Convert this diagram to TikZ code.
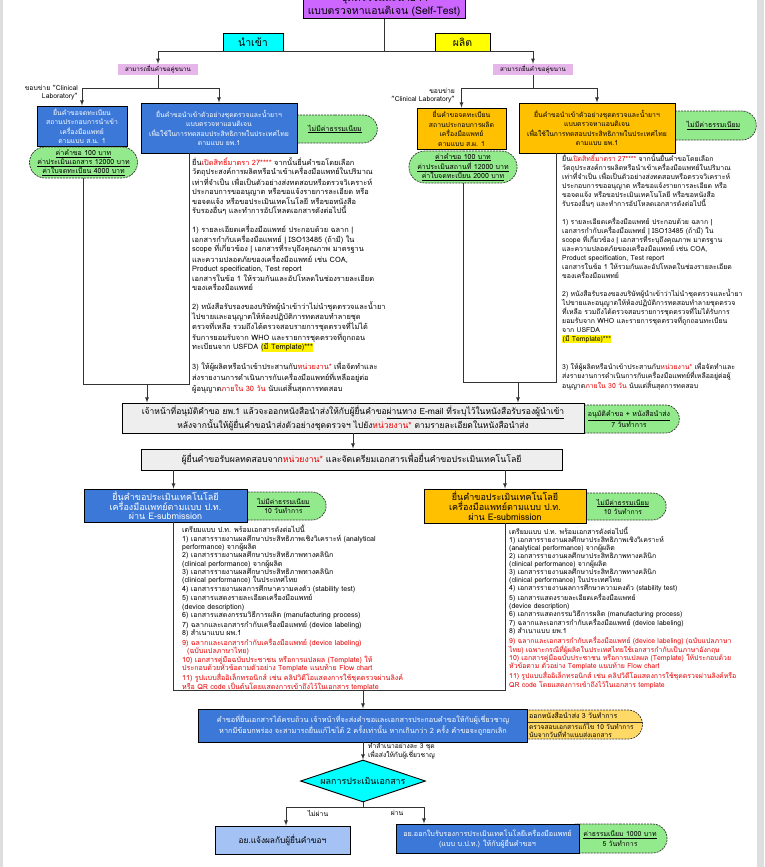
\documentclass[tikz,border=0pt]{standalone}
\usepackage{fontspec}
\setmainfont{Loma}[Script=Thai]
\usepackage{xcolor}
\usepackage{tikz}
\usetikzlibrary{arrows,shapes.geometric,shapes.misc,positioning}

\definecolor{titlepurple}{RGB}{204,102,255}
\definecolor{importcyan}{RGB}{0,255,255}
\definecolor{mfgyellow}{RGB}{255,255,0}
\definecolor{labelpink}{RGB}{230,182,234}
\definecolor{boxblue}{RGB}{60,120,216}
\definecolor{boxorange}{RGB}{255,192,0}
\definecolor{pillgreen}{RGB}{147,234,140}
\definecolor{bargray}{RGB}{238,238,238}
\definecolor{resultblue}{RGB}{164,194,244}
\definecolor{pillyellow}{RGB}{255,217,102}
\definecolor{notered}{RGB}{230,0,0}
\definecolor{pagegray}{RGB}{222,222,222}

\newcommand{\redtxt}[1]{\textcolor{notered}{#1}}
\newcommand{\hilite}[1]{{\setlength{\fboxsep}{0.5pt}\colorbox{yellow}{#1}}}

\tikzset{
  box/.style={draw=black, line width=0.9pt, align=center, inner sep=1pt, font=\fontsize{6.8}{9.5}\selectfont},
  bluebox/.style={box, fill=boxblue, text=white},
  orangebox/.style={box, fill=boxorange},
  graybar/.style={box, fill=bargray, font=\fontsize{8.5}{10}\selectfont},
  tab/.style={box, font=\fontsize{10.5}{12}\selectfont},
  pill/.style={rounded rectangle, draw=black!80, dash pattern=on 2pt off 1pt, line width=0.7pt, fill=pillgreen, align=center, inner sep=1pt, font=\fontsize{7}{9}\selectfont},
  halfpill/.style={pill, rounded rectangle west arc=none},
  tag/.style={fill=labelpink, inner sep=1pt, font=\fontsize{6.2}{7}\selectfont},
  note/.style={align=left, inner sep=0pt, anchor=north west},
  small/.style={inner sep=0pt, font=\fontsize{6.8}{8.5}\selectfont},
  decision/.style={diamond, aspect=3, draw=black, line width=0.9pt, fill=importcyan, minimum width=125pt, minimum height=42pt, inner sep=0pt, font=\fontsize{8.9}{10}\selectfont},
  link/.style={draw=black!80, line width=0.8pt},
  arrowlink/.style={link, -latex},
}

\begin{document}
\begin{tikzpicture}[x=1pt,y=1pt,yscale=-1,xscale=1]
    \useasboundingbox (0,0) rectangle (764,867);
    \fill[pagegray] (0,0) rectangle (764,867);
    \fill[white] (3,0) rectangle (757,867);

    %Shape: Title
    \node[box, fill=titlepurple, anchor=south, minimum width=162pt, inner sep=1.5pt, font=\fontsize{10.4}{13}\selectfont] (title) at (384,19) {ชุดตรวจและน้ำยาฯ\\แบบตรวจหาแอนติเจน (Self-Test)};
    %Shape: Import / Manufacture tabs
    \node[tab, fill=importcyan, minimum width=60pt, minimum height=18pt] (impTab) at (253,42) {นำเข้า};
    \node[tab, fill=mfgyellow, minimum width=55pt, minimum height=18pt] (mfgTab) at (462.5,42) {ผลิต};
    % Text Node
    \node[tag, minimum width=80pt, minimum height=11pt] (tagImp) at (158,69.5) {สามารถยื่นคำขอคู่ขนาน};
    \node[tag, minimum width=80pt, minimum height=11pt] (tagMfg) at (533,69.5) {สามารถยื่นคำขอคู่ขนาน};

    %Shape: import side
    \node[halfpill, minimum width=86pt, minimum height=28pt] (impFree) at (335,129) {\underline{ไม่มีค่าธรรมเนียม}};
    \node[bluebox, minimum width=90pt, minimum height=40pt] (impReg) at (82,126) {ยื่นคำขอจดทะเบียน\\สถานประกอบการนำเข้า\\เครื่องมือแพทย์\\ตามแบบ ส.น. 1};
    \node[bluebox, minimum width=156pt, minimum height=50pt] (impReq) at (219,128) {ยื่นคำขอนำเข้าตัวอย่างชุดตรวจและน้ำยาฯ\\แบบตรวจหาแอนติเจน\\เพื่อใช้ในการทดสอบประสิทธิภาพในประเทศไทย\\ตามแบบ ยพ.1};
    \node[pill, minimum width=107pt, minimum height=31pt] (impFee) at (83.5,162.5) {\underline{ค่าคำขอ 100 บาท}\\\underline{ค่าประเมินเอกสาร 12000 บาท}\\\underline{ค่าใบจดทะเบียน 4000 บาท}};
    % Text Node
    \node[small, align=right, anchor=north east] (impScope) at (78,85) {ขอบข่าย "Clinical\\Laboratory"};

    %Shape: manufacture side
    \node[halfpill, minimum width=87pt, minimum height=29pt] (mfgFree) at (713.5,125.5) {\underline{ไม่มีค่าธรรมเนียม}};
    \node[orangebox, minimum width=89pt, minimum height=41pt] (mfgReg) at (461.5,128.5) {ยื่นคำขอจดทะเบียน\\สถานประกอบการผลิต\\เครื่องมือแพทย์\\ตามแบบ ส.ผ. 1};
    \node[orangebox, minimum width=156pt, minimum height=50pt] (mfgReq) at (597,128) {ยื่นคำขอนำเข้าตัวอย่างชุดตรวจและน้ำยาฯ\\แบบตรวจหาแอนติเจน\\เพื่อใช้ในการทดสอบประสิทธิภาพในประเทศไทย\\ตามแบบ ยพ.1};
    \node[pill, minimum width=108pt, minimum height=32pt] (mfgFee) at (463,167) {\underline{ค่าคำขอ 100 บาท}\\\underline{ค่าประเมินสถานที่ 12000 บาท}\\\underline{ค่าใบจดทะเบียน 2000 บาท}};
    % Text Node
    \node[small, align=right, anchor=north east] (mfgScope) at (455,88) {ขอบข่าย\\"Clinical Laboratory"};

    % Text Node
    \node[note, font=\fontsize{7.4}{9.5}\selectfont] (impNote) at (192,157) {ยื่น\redtxt{เปิดสิทธิ์มาตรา 27****} จากนั้นยื่นคำขอโดยเลือก\\
วัตถุประสงค์การผลิตหรือนำเข้าเครื่องมือแพทย์ในปริมาณ\\
เท่าที่จำเป็น เพื่อเป็นตัวอย่างส่งทดสอบหรือตรวจวิเคราะห์\\
ประกอบการขออนุญาต หรือขอแจ้งรายการละเอียด หรือ\\
ขอจดแจ้ง หรือขอประเมินเทคโนโลยี หรือขอหนังสือ\\
รับรองอื่นๆ และทำการอัปโหลดเอกสารดังต่อไปนี้\\[9.5pt]
1) รายละเอียดเครื่องมือแพทย์ ประกอบด้วย ฉลาก |\\
เอกสารกำกับเครื่องมือแพทย์ | ISO13485 (ถ้ามี) ใน\\
scope ที่เกี่ยวข้อง | เอกสารที่ระบุถึงคุณภาพ มาตรฐาน\\
และความปลอดภัยของเครื่องมือแพทย์ เช่น COA,\\
Product specification, Test report\\
เอกสารในข้อ 1 ให้รวมกันและอัปโหลดในช่องรายละเอียด\\
ของเครื่องมือแพทย์\\[9.5pt]
2) หนังสือรับรองของบริษัทผู้นำเข้าว่าไม่นำชุดตรวจและน้ำยา\\
ไปขายและอนุญาตให้ห้องปฏิบัติการทดสอบทำลายชุด\\
ตรวจที่เหลือ รวมถึงได้ตรวจสอบรายการชุดตรวจที่ไม่ได้\\
รับการยอมรับจาก WHO และรายการชุดตรวจที่ถูกถอน\\
ทะเบียนจาก USFDA \hilite{(มี Template)***}\\[9.5pt]
3) ให้ผู้ผลิตหรือนำเข้าประสานกับ\redtxt{หน่วยงาน*} เพื่อจัดทำและ\\
ส่งรายงานการดำเนินการกับเครื่องมือแพทย์ที่เหลืออยู่ต่อ\\
ผู้อนุญาต\redtxt{ภายใน 30 วัน} นับแต่สิ้นสุดการทดสอบ};
    % Text Node
    \node[note, font=\fontsize{6.9}{9}\selectfont] (mfgNote) at (562,154) {ยื่น\redtxt{เปิดสิทธิ์มาตรา 27****} จากนั้นยื่นคำขอโดยเลือก\\
วัตถุประสงค์การผลิตหรือนำเข้าเครื่องมือแพทย์ในปริมาณ\\
เท่าที่จำเป็น เพื่อเป็นตัวอย่างส่งทดสอบหรือตรวจวิเคราะห์\\
ประกอบการขออนุญาต หรือขอแจ้งรายการละเอียด หรือ\\
ขอจดแจ้ง หรือขอประเมินเทคโนโลยี หรือขอหนังสือ\\
รับรองอื่นๆ และทำการอัปโหลดเอกสารดังต่อไปนี้\\[9pt]
1) รายละเอียดเครื่องมือแพทย์ ประกอบด้วย ฉลาก |\\
เอกสารกำกับเครื่องมือแพทย์ | ISO13485 (ถ้ามี) ใน\\
scope ที่เกี่ยวข้อง | เอกสารที่ระบุถึงคุณภาพ มาตรฐาน\\
และความปลอดภัยของเครื่องมือแพทย์ เช่น COA,\\
Product specification, Test report\\
เอกสารในข้อ 1 ให้รวมกันและอัปโหลดในช่องรายละเอียด\\
ของเครื่องมือแพทย์\\[9pt]
2) หนังสือรับรองของบริษัทผู้นำเข้าว่าไม่นำชุดตรวจและน้ำยา\\
ไปขายและอนุญาตให้ห้องปฏิบัติการทดสอบทำลายชุดตรวจ\\
ที่เหลือ รวมถึงได้ตรวจสอบรายการชุดตรวจที่ไม่ได้รับการ\\
ยอมรับจาก WHO และรายการชุดตรวจที่ถูกถอนทะเบียน\\
จาก USFDA\\
\hilite{(มี Template)***}\\[18pt]
3) ให้ผู้ผลิตหรือนำเข้าประสานกับ\redtxt{หน่วยงาน*} เพื่อจัดทำและ\\
ส่งรายงานการดำเนินการกับเครื่องมือแพทย์ที่เหลืออยู่ต่อผู้\\
อนุญาต\redtxt{ภายใน 30 วัน} นับแต่สิ้นสุดการทดสอบ};

    %Shape: approval bar
    \node[halfpill, minimum width=100pt, minimum height=28pt, font=\fontsize{7}{9.5}\selectfont] (approveDays) at (629,419) {\underline{อนุมัติคำขอ + หนังสือนำส่ง}\\7 วันทำการ};
    \node[graybar, minimum width=462pt, minimum height=30pt] (approve) at (353,418) {เจ้าหน้าที่อนุมัติคำขอ ยพ.1 แล้วจะออกหนังสือนำส่งให้กับผู้ยื่นคำขอ\underline{ผ่านทาง E-mail ที่ระบุไว้ในหนังสือรับรองผู้นำเข้า}\\หลังจากนั้นให้ผู้ยื่นคำขอนำส่งตัวอย่างชุดตรวจฯ ไปยัง\redtxt{หน่วยงาน*} ตามรายละเอียดในหนังสือนำส่ง};
    \node[graybar, minimum width=421pt, minimum height=21pt, font=\fontsize{8.7}{10}\selectfont] (collect) at (351.5,459.5) {ผู้ยื่นคำขอรับผลทดสอบจาก\redtxt{หน่วยงาน*} และจัดเตรียมเอกสารเพื่อยื่นคำขอประเมินเทคโนโลยี};

    %Shape: E-submission
    \node[halfpill, minimum width=85pt, minimum height=28pt, font=\fontsize{6.8}{9}\selectfont] (esImpDays) at (283.5,506) {\underline{ไม่มีค่าธรรมเนียม}\\10 วันทำการ};
    \node[bluebox, minimum width=163pt, minimum height=33pt, font=\fontsize{9}{9.7}\selectfont] (esImp) at (165.5,505.5) {ยื่นคำขอประเมินเทคโนโลยี\\เครื่องมือแพทย์ตามแบบ ป.ท.\\ผ่าน E-submission};
    \node[halfpill, minimum width=86pt, minimum height=27pt, font=\fontsize{6.8}{9}\selectfont] (esMfgDays) at (623,506.5) {\underline{ไม่มีค่าธรรมเนียม}\\10 วันทำการ};
    \node[orangebox, minimum width=162pt, minimum height=34pt, font=\fontsize{9}{9.7}\selectfont] (esMfg) at (505,506) {ยื่นคำขอประเมินเทคโนโลยี\\เครื่องมือแพทย์ตามแบบ ป.ท.\\ผ่าน E-submission};

    % Text Node
    \node[note, font=\fontsize{7.1}{8.33}\selectfont] (esImpNote) at (182,525) {เตรียมแบบ ป.ท. พร้อมเอกสารดังต่อไปนี้\\
1) เอกสารรายงานผลศึกษาประสิทธิภาพเชิงวิเคราะห์ (analytical\\
performance) จากผู้ผลิต\\
2) เอกสารรายงานผลศึกษาประสิทธิภาพทางคลินิก\\
(clinical performance) จากผู้ผลิต\\
3) เอกสารรายงานผลศึกษาประสิทธิภาพทางคลินิก\\
(clinical performance) ในประเทศไทย\\
4) เอกสารรายงานผลการศึกษาความคงตัว (stability test)\\
5) เอกสารแสดงรายละเอียดเครื่องมือแพทย์\\
(device description)\\
6) เอกสารแสดงกรรมวิธีการผลิต (manufacturing process)\\
7) ฉลากและเอกสารกำกับเครื่องมือแพทย์ (device labeling)\\
8) สำเนาแบบ ผพ.1\\
\redtxt{9) ฉลากและเอกสารกำกับเครื่องมือแพทย์ (device labeling)}\\
\redtxt{\hspace*{5pt}(ฉบับแปลภาษาไทย)}\\
\redtxt{10) เอกสารคู่มือฉบับประชาชน หรือการแปลผล (Template) ให้}\\
\redtxt{ประกอบด้วยหัวข้อตามตัวอย่าง Template แนบท้าย Flow chart}\\
\redtxt{11) รูปแบบสื่ออิเล็กทรอนิกส์ เช่น คลิปวิดีโอแสดงการใช้ชุดตรวจผ่านลิงค์}\\
\redtxt{หรือ QR code เป็นต้นโดยแสดงการเข้าถึงไว้ในเอกสาร template}};
    % Text Node
    \node[note, font=\fontsize{6.9}{8}\selectfont] (esMfgNote) at (509,527) {เตรียมแบบ ป.ท. พร้อมเอกสารดังต่อไปนี้\\
1) เอกสารรายงานผลศึกษาประสิทธิภาพเชิงวิเคราะห์\\
(analytical performance) จากผู้ผลิต\\
2) เอกสารรายงานผลศึกษาประสิทธิภาพทางคลินิก\\
(clinical performance) จากผู้ผลิต\\
3) เอกสารรายงานผลศึกษาประสิทธิภาพทางคลินิก\\
(clinical performance) ในประเทศไทย\\
4) เอกสารรายงานผลการศึกษาความคงตัว (stability test)\\
5) เอกสารแสดงรายละเอียดเครื่องมือแพทย์\\
(device description)\\
6) เอกสารแสดงกรรมวิธีการผลิต (manufacturing process)\\
7) ฉลากและเอกสารกำกับเครื่องมือแพทย์ (device labeling)\\
8) สำเนาแบบ ยพ.1\\
\redtxt{9) ฉลากและเอกสารกำกับเครื่องมือแพทย์ (device labeling) (ฉบับแปลภาษา}\\
\redtxt{ไทย) เฉพาะกรณีที่ผู้ผลิตในประเทศไทยใช้เอกสารกำกับเป็นภาษาอังกฤษ}\\
\redtxt{10) เอกสารคู่มือฉบับประชาชน หรือการแปลผล (Template) ให้ประกอบด้วย}\\
\redtxt{หัวข้อตาม ตัวอย่าง Template แนบท้าย Flow chart}\\
\redtxt{11) รูปแบบสื่ออิเล็กทรอนิกส์ เช่น คลิปวิดีโอแสดงการใช้ชุดตรวจผ่านลิงค์หรือ}\\
\redtxt{QR code โดยแสดงการเข้าถึงไว้ในเอกสาร template}};

    %Shape: expert review
    \node[halfpill, fill=pillyellow, minimum width=123pt, minimum height=29pt] (reviewDays) at (582,724.5) {};
    \node[bluebox, minimum width=329pt, minimum height=33pt, font=\fontsize{7.3}{9.5}\selectfont] (review) at (363,725.5) {คำขอที่ยื่นเอกสารได้ครบถ้วน เจ้าหน้าที่จะส่งคำขอและเอกสารประกอบคำขอให้กับผู้เชี่ยวชาญ\\หากมีข้อบกพร่อง จะสามารถยื่นแก้ไขได้ 2 ครั้งเท่านั้น หากเกินกว่า 2 ครั้ง คำขอจะถูกยกเลิก};
    \draw[draw=black!80, line width=0.6pt] (review.east |- 0,722) -- (reviewDays.east |- 0,722);
    \node[small, anchor=west, font=\fontsize{7}{8}\selectfont] (daysSend) at (529,716) {ออกหนังสือนำส่ง 3 วันทำการ};
    \node[small, anchor=west, align=left, font=\fontsize{6.6}{8}\selectfont] (daysFix) at (529,731) {ตรวจสอบเอกสารแก้ไข 10 วันทำการ\\นับจากวันที่ทำแนบส่งเอกสาร};
    % Text Node
    \node[small, anchor=west, align=left, font=\fontsize{6.7}{8.5}\selectfont] (copyNote) at (368,751) {ทำสำเนาอย่างละ 3 ชุด\\เพื่อส่งให้กับผู้เชี่ยวชาญ};

    %Shape: Diamond
    \node[decision] (dia) at (363,781) {ผลการประเมินเอกสาร};

    %Shape: results
    \node[box, fill=resultblue, minimum width=135pt, minimum height=28pt, font=\fontsize{8.3}{10}\selectfont] (notify) at (282.5,840) {อย.แจ้งผลกับผู้ยื่นคำขอฯ};
    \node[halfpill, minimum width=94pt, minimum height=29pt, font=\fontsize{6.9}{9.5}\selectfont] (certDays) at (620,838.5) {\underline{ค่าธรรมเนียม 1000 บาท}\\5 วันทำการ};
    \node[bluebox, minimum width=183pt, minimum height=29pt, font=\fontsize{7.2}{10}\selectfont] (certify) at (487.5,838.5) {อย.ออกใบรับรองการประเมินเทคโนโลยีเครื่องมือแพทย์\\(แบบ บ.ป.ท.) ให้กับผู้ยื่นคำขอฯ};
    % Text Node
    \node[small] (failLbl) at (318,813) {ไม่ผ่าน};
    \node[small] (passLbl) at (397,813) {ผ่าน};

    %Connectors
    \draw[link] (title.south) -- (title.south |- impTab.south);
    \draw[link] (tagImp.north |- impTab.south) -- (tagMfg.north |- impTab.south);
    \draw[arrowlink] (tagImp.north |- impTab.south) -- (tagImp.north);
    \draw[arrowlink] (tagMfg.north |- impTab.south) -- (tagMfg.north);

    \coordinate (forkImp) at (tagImp.south |- 0,88);
    \coordinate (forkMfg) at (tagMfg.south |- 0,88);
    \draw[link] (tagImp.south) -- (forkImp);
    \draw[arrowlink] (forkImp) -| (impReg.north);
    \draw[arrowlink] (forkImp) -| (impReq.north);
    \draw[link] (tagMfg.south) -- (forkMfg);
    \draw[arrowlink] (forkMfg) -| (mfgReg.north);
    \draw[arrowlink] (forkMfg) -| (mfgReq.north);

    \coordinate (impJoin) at (189,384);
    \coordinate (impOut) at (147,384);
    \draw[link] (impFee.south) |- (impJoin) -- (impJoin |- impReq.south);
    \draw[arrowlink] (impOut) -- (impOut |- approve.north);
    \coordinate (mfgJoin) at (556,382);
    \coordinate (mfgOut) at (518,382);
    \draw[link] (mfgFee.south) |- (mfgJoin) -- (mfgJoin |- mfgReq.south);
    \draw[arrowlink] (mfgOut) -- (mfgOut |- approve.north);

    \draw[arrowlink] (approve.south) -- (approve.south |- collect.north);
    \draw[arrowlink] ([xshift=8pt]esImp.north |- collect.south) -- ([xshift=8pt]esImp.north);
    \draw[arrowlink] (esMfg.north |- collect.south) -- (esMfg.north);

    \coordinate (esJoinL) at (173,690);
    \coordinate (esJoinR) at (505,690);
    \coordinate (esOut) at (363,690);
    \draw[link] (esJoinL |- esImp.south) -- (esJoinL) -- (esJoinR) -- (esMfg.south);
    \draw[arrowlink] (esOut) -- (review.north);
    \draw[arrowlink] (review.south) -- (dia.north);

    \coordinate (decJoin) at (363,807);
    \coordinate (failPt) at (286,807);
    \coordinate (passPt) at (424,807);
    \draw[link] (dia.south) -- (decJoin);
    \draw[link] (failPt) -- (passPt);
    \draw[arrowlink] (failPt) -- (failPt |- notify.north);
    \draw[arrowlink] (passPt) -- (passPt |- certify.north);
\end{tikzpicture}
\end{document}
